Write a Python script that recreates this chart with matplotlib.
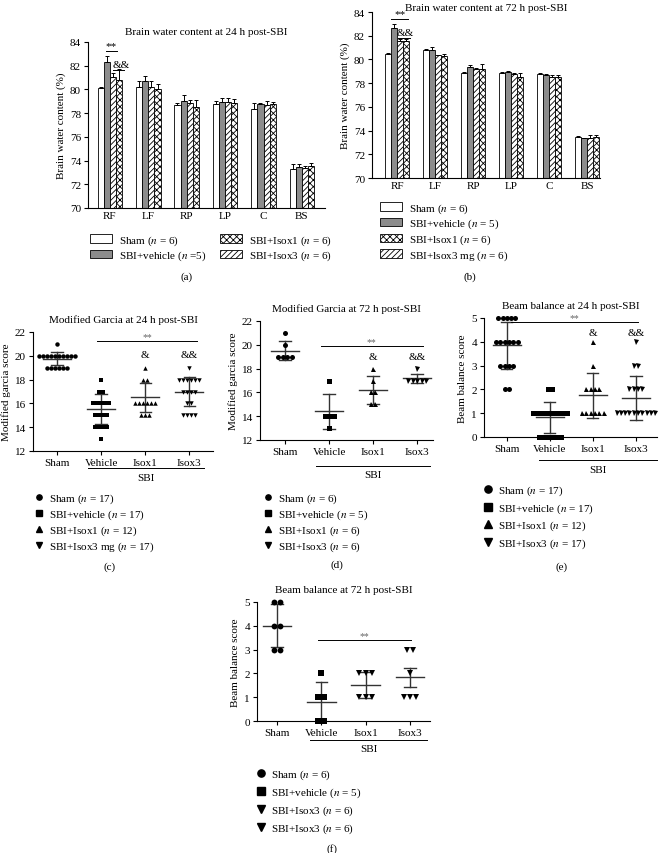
import matplotlib
matplotlib.use('Agg')
import matplotlib.pyplot as plt
from matplotlib.lines import Line2D
import numpy as np

plt.rcParams['font.family'] = ['Liberation Serif', 'DejaVu Serif']
plt.rcParams['mathtext.fontset'] = 'stix'
plt.rcParams['font.size'] = 8
plt.rcParams['hatch.linewidth'] = 0.6
plt.rcParams['axes.linewidth'] = 0.8

W, H = 662, 854

# ---- brain water content data ----
regions = ['RF', 'LF', 'RP', 'LP', 'C', 'BS']

a_sham = [80.15, 80.23, 78.69, 78.80, 78.32, 73.32]
a_sham_err = [0.08, 0.47, 0.19, 0.22, 0.56, 0.36]
a_veh = [82.31, 80.70, 79.02, 78.97, 78.74, 73.49]
a_veh_err = [0.51, 0.43, 0.48, 0.31, 0.14, 0.19]
a_iso3 = [81.08, 80.23, 78.88, 78.97, 78.66, 73.40]
a_iso3_err = [0.28, 0.47, 0.22, 0.28, 0.39, 0.14]
a_iso1 = [80.82, 80.06, 78.50, 78.88, 78.80, 73.54]
a_iso1_err = [0.88, 0.37, 0.65, 0.28, 0.14, 0.23]

b_sham = [80.42, 80.76, 78.87, 78.87, 78.73, 73.49]
b_sham_err = [0.12, 0.14, 0.06, 0.09, 0.09, 0.09]
b_veh = [82.65, 80.82, 79.35, 78.93, 78.70, 73.35]
b_veh_err = [0.36, 0.22, 0.20, 0.07, 0.09, 0.06]
b_iso3 = [81.55, 80.34, 79.18, 78.79, 78.56, 73.35]
b_iso3_err = [0.14, 0.06, 0.09, 0.08, 0.09, 0.31]
b_iso1 = [81.55, 80.28, 79.21, 78.51, 78.56, 73.44]
b_iso1_err = [0.20, 0.14, 0.37, 0.34, 0.09, 0.19]

# ---- behaviour score data (individual animals) ----
groups = ['Sham', 'Vehicle', 'Isox1', 'Isox3']

c_sham = [21] + [20] * 10 + [19] * 6
c_veh = [18, 17, 17] + [16] * 5 + [15] * 4 + [14] * 4 + [13]
c_iso1 = [19, 18, 18] + [16] * 6 + [15] * 3
c_iso3 = [19] + [18] * 6 + [17] * 4 + [16] * 2 + [15] * 4
c_mean = [19.75, 15.5, 16.5, 17.0]
c_sd = [0.55, 1.25, 1.25, 1.25]

d_sham = [21, 20, 19, 19, 19, 19]
d_veh = [17, 14, 14, 14, 13]
d_iso1 = [18, 17, 16, 16, 15, 15]
d_iso3 = [18, 17, 17, 17, 17, 17]
d_mean = [19.5, 14.4, 16.17, 17.17]
d_sd = [0.8, 1.5, 1.17, 0.41]

e_sham = [5] * 5 + [4] * 6 + [3] * 4 + [2] * 2
e_veh = [2, 2] + [1] * 9 + [0] * 6
e_iso1 = [4, 3] + [2] * 4 + [1] * 6
e_iso3 = [4, 3, 3] + [2] * 4 + [1] * 10
e_mean = [3.85, 0.82, 1.75, 1.65]
e_sd = [1.0, 0.64, 0.96, 0.93]

f_sham = [5, 5, 4, 4, 3, 3]
f_veh = [2, 1, 1, 0, 0]
f_iso1 = [2, 2, 2, 1, 1, 1]
f_iso3 = [3, 3, 2, 1, 1, 1]
f_mean = [4.0, 0.8, 1.5, 1.83]
f_sd = [0.9, 0.83, 0.55, 0.41]

fig = plt.figure(figsize=(W / 100, H / 100), dpi=100)


def add_ax(x0, x1, y0, y1):
    return fig.add_axes([x0 / W, 1 - y1 / H, (x1 - x0) / W, (y1 - y0) / H])


def style(ax):
    ax.spines['top'].set_visible(False)
    ax.spines['right'].set_visible(False)
    ax.tick_params(direction='out', length=3, width=0.8, labelsize=8, pad=2)


def bar_panel(ax, series, errs, title, xlim, pad=6):
    style(ax)
    x = np.arange(len(regions))
    w = 0.16
    looks = [dict(color='white'), dict(color='#8c8c8c'),
             dict(color='white', hatch='//////'), dict(color='white', hatch='xxxxx')]
    handles = []
    for j, (vals, err) in enumerate(zip(series, errs)):
        xs = x + (j - 1.5) * w
        b = ax.bar(xs, vals, w, edgecolor='black', linewidth=0.6, **looks[j])
        ax.errorbar(xs, vals, yerr=[np.zeros(len(err)), err], fmt='none',
                    ecolor='black', elinewidth=0.7, capsize=1.5, capthick=0.7)
        handles.append(b)
    ax.set_ylim(70, 84)
    ax.set_yticks(range(70, 85, 2))
    ax.set_xlim(*xlim)
    ax.set_xticks(x)
    ax.set_xticklabels(regions)
    ax.tick_params(axis='x', length=0)
    ax.set_ylabel('Brain water content (%)', fontsize=8, labelpad=3)
    ax.set_title(title, fontsize=8, pad=pad)
    return handles


# (a)
ax_a = add_ax(88, 325, 43, 209)
ha = bar_panel(ax_a, [a_sham, a_veh, a_iso3, a_iso1],
               [a_sham_err, a_veh_err, a_iso3_err, a_iso1_err],
               'Brain water content at 24 h post-SBI', (-0.57, 5.6))
ax_a.plot([-0.1, 0.18], [83.24, 83.24], color='black', lw=0.7)
ax_a.text(0.04, 83.3, '**', ha='center', va='bottom', fontsize=8)
ax_a.plot([0.08, 0.36], [81.64, 81.64], color='black', lw=0.7)
ax_a.text(0.3, 81.75, '&&', ha='center', va='bottom', fontsize=8)
ax_a.legend([ha[0], ha[1], ha[3], ha[2]],
            ['Sham ($n$ = 6)', 'SBI+vehicle ($n$ =5)',
             'SBI+Isox1 ($n$ = 6)', 'SBI+Isox3 ($n$ = 6)'],
            ncol=2, frameon=False, loc='upper left',
            bbox_to_anchor=(80 / W, 1 - 224 / H), bbox_transform=fig.transFigure,
            handlelength=2.0, handleheight=0.8, labelspacing=0.2,
            columnspacing=1.2, handletextpad=0.6, fontsize=8)

# (b)
ax_b = add_ax(372, 600, 13, 179)
hb = bar_panel(ax_b, [b_sham, b_veh, b_iso3, b_iso1],
               [b_sham_err, b_veh_err, b_iso3_err, b_iso1_err],
               'Brain water content at 72 h post-SBI', (-0.66, 5.34), pad=1)
ax_b.plot([-0.15, 0.29], [83.4, 83.4], color='black', lw=0.7)
ax_b.text(0.07, 83.45, '**', ha='center', va='bottom', fontsize=8)
ax_b.plot([0.03, 0.34], [81.8, 81.8], color='black', lw=0.7)
ax_b.text(0.22, 81.9, '&&', ha='center', va='bottom', fontsize=8)
ax_b.legend([hb[0], hb[1], hb[3], hb[2]],
            ['Sham ($n$ = 6)', 'SBI+vehicle ($n$ = 5)',
             'SBI+lsox1 ($n$ = 6)', 'SBI+lsox3 mg ($n$ = 6)'],
            ncol=1, frameon=False, loc='upper left',
            bbox_to_anchor=(370 / W, 1 - 192 / H), bbox_transform=fig.transFigure,
            handlelength=2.0, handleheight=0.8, labelspacing=0.2,
            handletextpad=0.6, fontsize=8)


def spread(vals, step):
    vals = np.asarray(vals, dtype=float)
    offs = np.zeros(len(vals))
    for v in np.unique(vals):
        idx = np.where(vals == v)[0]
        k = len(idx)
        offs[idx] = (np.arange(k) - (k - 1) / 2) * step
    return offs


def dot_panel(ax, data, means, sds, markers, title, ylim, yticks, xlim,
              ylabel, ms=3.2, step=0.09):
    style(ax)
    for i, vals in enumerate(data):
        xs = i + spread(vals, step)
        ax.plot(xs, vals, ls='none', marker=markers[i], color='black', ms=ms,
                mew=0, clip_on=False, zorder=3)
        m, s = means[i], sds[i]
        ax.plot([i - 0.32, i + 0.32], [m, m], color='#333333', lw=1.0, zorder=2)
        ax.plot([i, i], [m - s, m + s], color='#333333', lw=1.0, zorder=2)
        ax.plot([i - 0.13, i + 0.13], [m + s, m + s], color='#333333', lw=1.0, zorder=2)
        ax.plot([i - 0.13, i + 0.13], [m - s, m - s], color='#333333', lw=1.0, zorder=2)
    ax.set_ylim(*ylim)
    ax.set_yticks(yticks)
    ax.set_xlim(*xlim)
    ax.set_xticks(range(len(groups)))
    ax.set_xticklabels(groups)
    ax.set_ylabel(ylabel, fontsize=8, labelpad=3)
    ax.set_title(title, fontsize=8, pad=7)


def sig(ax, x0, x1, y, amp_y):
    ax.plot([x0, x1], [y, y], color='black', lw=0.7, clip_on=False)
    ax.text((x0 + x1) / 2, y, '**', ha='center', va='bottom', fontsize=7, color='#666666')
    ax.text(2, amp_y, '&', ha='center', va='center', fontsize=8)
    ax.text(3, amp_y, '&&', ha='center', va='center', fontsize=8)


def sbi_bar(ax, x0, x1, yline, ytext):
    tr = ax.get_xaxis_transform()
    ax.plot([x0, x1], [yline, yline], color='black', lw=0.7, transform=tr, clip_on=False)
    ax.text((x0 + x1) / 2, ytext, 'SBI', ha='center', va='center', transform=tr, fontsize=8)


def dot_legend(ax, markers, labels, x, y, ms=3.8, spacing=0.2):
    hs = [Line2D([], [], ls='none', marker=m, color='black', ms=ms) for m in markers]
    ax.legend(hs, labels, frameon=False, loc='upper left',
              bbox_to_anchor=(x / W, 1 - y / H), bbox_transform=fig.transFigure,
              handlelength=0.8, handletextpad=0.5, labelspacing=spacing, fontsize=8)


mk = ['o', 's', '^', 'v']

# (c)
ax_c = add_ax(33, 213, 333, 452)
dot_panel(ax_c, [c_sham, c_veh, c_iso1, c_iso3], c_mean, c_sd, mk,
          'Modified Garcia at 24 h post-SBI', (12, 22), range(12, 23, 2),
          (-0.55, 3.54), 'Modified garcia score')
sig(ax_c, 0.9, 3.18, 21.25, 20.1)
sbi_bar(ax_c, 0.7, 3.33, -0.143, -0.22)
dot_legend(ax_c, mk, ['Sham ($n$ = 17)', 'SBI+vehicle ($n$ = 17)',
                      'SBI+Isox1 ($n$ = 12)', 'SBI+Isox3 mg ($n$ = 17)'], 25, 483)

# (d)
ax_d = add_ax(260, 433, 322, 441)
dot_panel(ax_d, [d_sham, d_veh, d_iso1, d_iso3], d_mean, d_sd, mk,
          'Modified Garcia at 72 h post-SBI', (12, 22), range(12, 23, 2),
          (-0.57, 3.36), 'Modified garcia score', ms=3.6, step=0.1)
sig(ax_d, 0.81, 3.13, 19.9, 19.0)
sbi_bar(ax_d, 0.7, 3.3, -0.22, -0.29)
dot_legend(ax_d, mk, ['Sham ($n$ = 6)', 'SBI+vehicle ($n$ = 5)',
                      'SBI+Isox1 ($n$ = 6)', 'SBI+Isox3 ($n$ = 6)'], 254, 483)

# (e)
ax_e = add_ax(484, 657, 319, 438)
dot_panel(ax_e, [e_sham, e_veh, e_iso1, e_iso3], e_mean, e_sd, mk,
          'Beam balance at 24 h post-SBI', (0, 5), range(0, 6),
          (-0.53, 3.49), 'Beam balance score', ms=3.6, step=0.1)
sig(ax_e, 0.09, 3.06, 4.83, 4.4)
sbi_bar(ax_e, 0.75, 3.5, -0.19, -0.27)
dot_legend(ax_e, mk, ['Sham ($n$ = 17)', 'SBI+vehicle ($n$ = 17)',
                      'SBI+Isox1 ($n$ = 12)', 'SBI+Isox3 ($n$ = 17)'], 474, 475,
           ms=5.2, spacing=0.35)

# (f)
ax_f = add_ax(257, 430, 603, 722)
dot_panel(ax_f, [f_sham, f_veh, f_iso1, f_iso3], f_mean, f_sd, ['o', 's', 'v', 'v'],
          'Beam balance at 72 h post-SBI', (0, 5), range(0, 6),
          (-0.45, 3.45), 'Beam balance score', ms=4.2, step=0.14)
ax_f.plot([0.93, 3.03], [3.4, 3.4], color='black', lw=0.7)
ax_f.text(1.98, 3.4, '**', ha='center', va='bottom', fontsize=7, color='#666666')
sbi_bar(ax_f, 0.75, 3.39, -0.16, -0.23)
dot_legend(ax_f, ['o', 's', 'v', 'v'],
           ['Sham ($n$ = 6)', 'SBI+vehicle ($n$ = 5)',
            'SBI+Isox3 ($n$ = 6)', 'SBI+Isox3 ($n$ = 6)'], 247, 759,
           ms=5.2, spacing=0.4)

for lab, x, y in [('(a)', 187, 277), ('(b)', 470, 277), ('(c)', 110, 567),
                  ('(d)', 337, 565), ('(e)', 562, 567), ('(f)', 332, 849)]:
    fig.text(x / W, 1 - y / H, lab, ha='center', va='center', fontsize=8)

fig.savefig('out.png', dpi=100)
